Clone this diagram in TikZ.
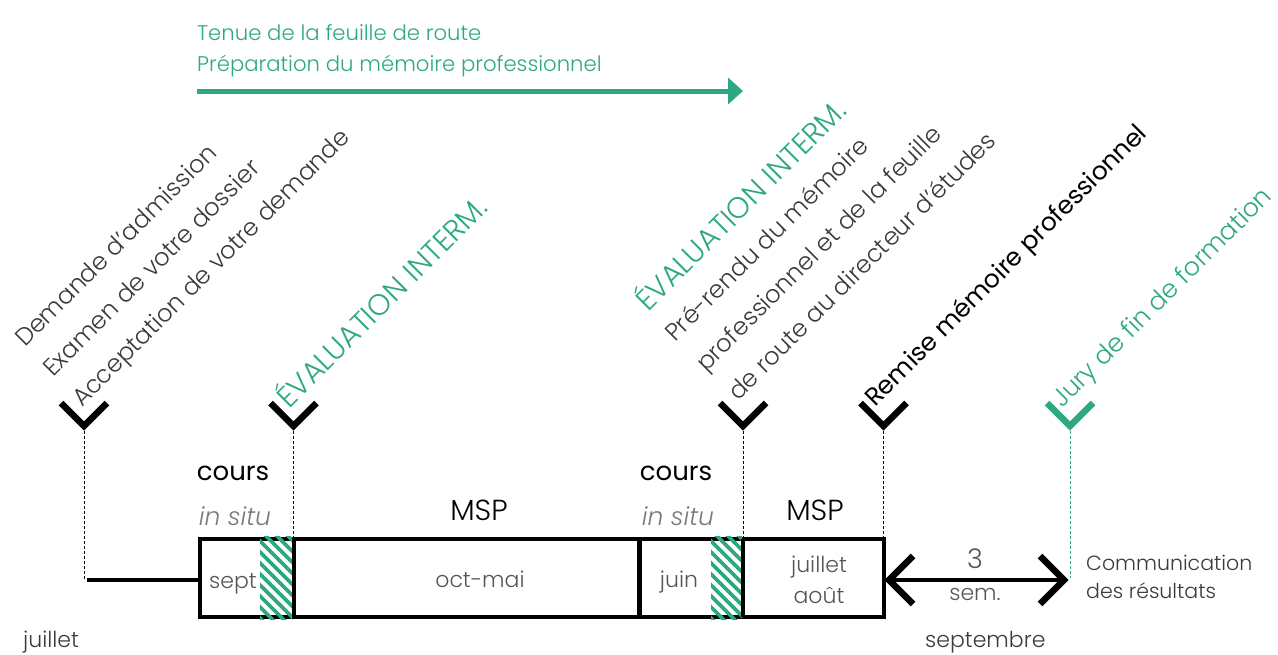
\documentclass[tikz,border=0pt]{standalone}
\usepackage{fontspec}
\IfFontExistsTF{Poppins Light}{\setmainfont{Poppins Light}}{\setmainfont{Poppins}}
\newfontfamily\regfont{Poppins}
\usetikzlibrary{calc,arrows.meta}
\definecolor{grn}{HTML}{2EA882}
\definecolor{txt}{HTML}{3A3A3A}
\definecolor{lgray}{HTML}{7A7A7A}
\definecolor{mgray}{HTML}{555555}
\newcommand\fsz[1]{\fontsize{#1}{#1}\selectfont}
\begin{document}
\begin{tikzpicture}[x=1pt,y=-1pt,
  lab/.style={inner sep=0pt, anchor=base, text=txt, font=\fsz{22}},
  rot/.style={inner sep=0pt, anchor=base west, rotate=45, text=txt, font=\fsz{24.3}},
  chev/.style={line width=6.5pt, line join=miter, miter limit=10, line cap=butt},
  guide/.style={line width=0.8pt, dash pattern=on 3pt off 2pt},
  thick box/.style={line width=4pt},
]
\useasboundingbox (0,0) rectangle (1278,654);

% top arrow and labels
\node[lab, anchor=base west, text=grn, font=\fsz{21.2}] (t1) at (197,40) {Tenue de la feuille de route};
\node[lab, anchor=base west, text=grn, font=\fsz{21.2}] (t2) at (197,71) {Préparation du mémoire professionnel};
\coordinate (a0) at (197,91);
\coordinate (a1) at (743,91);
\draw[grn, line width=5pt, -{Triangle[length=15pt,width=26pt]}] (a0) -- (a1);

% rotated labels
\node[rot] (r1) at (25,348) {Demande d'admission};
\node[rot] (r2) at (53,378) {Examen de votre dossier};
\node[rot] (r3) at (82,408) {Acceptation de votre demande};
\node[rot, text=grn, font=\fsz{29.5}] (r4) at (289,410) {ÉVALUATION INTERM.};
\node[rot, text=grn, font=\fsz{29.5}] (r5) at (648,313) {ÉVALUATION INTERM.};
\node[rot] (r6) at (675,343) {Pré-rendu du mémoire};
\node[rot] (r7) at (706,373) {professionnel et de la feuille};
\node[rot] (r8) at (738,402) {de route au directeur d'études};
\node[rot, text=black, font=\regfont\fsz{25}] (r9) at (875,408) {Remise mémoire professionnel};
\node[rot, text=grn, font=\fsz{25.3}] (r10) at (1062,409) {Jury de fin de formation};

% chevron tips
\coordinate (c1) at (84,426);
\coordinate (c2) at (293.5,426);
\coordinate (c3) at (743,426);
\coordinate (c4) at (883.5,426);
\coordinate (c5) at (1070,426);
\foreach \c in {c1,c2,c3,c4}
  \draw[chev] ($(\c)+(-23,-23)$) -- (\c) -- ($(\c)+(23,-23)$);
\draw[chev, grn] ($(c5)+(-23,-23)$) -- (c5) -- ($(c5)+(23,-23)$);

% box corners and dividers
\coordinate (bl) at (199.5,538.5);
\coordinate (br) at (883.5,616.5);
\coordinate (d1t) at (293.5,538.5); \coordinate (d1b) at (293.5,616.5);
\coordinate (d2t) at (639.5,538.5); \coordinate (d2b) at (639.5,616.5);
\coordinate (d3t) at (743,538.5);   \coordinate (d3b) at (743,616.5);
\coordinate (d4t) at (883.5,538.5);
\coordinate (s0) at (84,580);
\coordinate (s1) at (87,580);
\coordinate (s2) at (199.5,580);
\coordinate (e1) at (1070,578);

% guides
\draw[guide] (c1) -- (s0);
\draw[guide] (c2) -- (d1t);
\draw[guide] (c3) -- (d3t);
\draw[guide] (c4) -- (d4t);
\draw[guide, grn] (c5) -- (e1);

% box
\draw[thick box] (bl) rectangle (br);
\draw[thick box] (s1) -- (s2);
% hatching
\begin{scope}
  \clip (260,536) rectangle (292,619);
  \foreach \i in {-12,...,4} \draw[grn, line width=3.6pt] (260+\i*11,530) -- ++(100,100);
\end{scope}
\begin{scope}
  \clip (711,536) rectangle (742,619);
  \foreach \i in {-12,...,4} \draw[grn, line width=3.6pt] (711+\i*11,530) -- ++(100,100);
\end{scope}
\draw[thick box] (d1t) -- (d1b);
\draw[line width=4.5pt] (d2t) -- (d2b);
\draw[thick box] (d3t) -- (d3b);

% double arrow
\coordinate (h1) at (889,580);
\coordinate (h2) at (1064,580);
\draw[thick box] (h1) -- (h2);
\draw[chev] ($(h1)+(24,-24)$) -- (h1) -- ($(h1)+(24,24)$);
\draw[chev] ($(h2)+(-24,-24)$) -- (h2) -- ($(h2)+(-24,24)$);

% labels above / inside box
\node[lab, text=black, font=\regfont\fsz{26}] (co1) at (233,480) {cours};
\node[lab, text=lgray, font=\itshape\fsz{25}] (is1) at (235,525) {in situ};
\node[lab, text=black, font=\regfont\fsz{26}] (co2) at (676,480) {cours};
\node[lab, text=lgray, font=\itshape\fsz{25}] (is2) at (678,525) {in situ};
\node[lab, text=black, font=\fsz{29}] (m1) at (479,520) {MSP};
\node[lab, text=black, font=\fsz{29}] (m2) at (815,520) {MSP};
\node[lab, text=mgray] (l1) at (233,588) {sept};
\node[lab, text=mgray] (l2) at (480,587) {oct-mai};
\node[lab, text=mgray] (l3) at (679,587) {juin};
\node[lab, text=mgray] (l4) at (819,572) {juillet};
\node[lab, text=mgray] (l5) at (819,603) {août};
\node[lab, text=mgray, font=\fsz{27}] (w1) at (975,568) {3};
\node[lab, text=mgray] (w2) at (975,600) {sem.};
\node[lab, anchor=base west, font=\fsz{20.5}] (cr1) at (1086,570) {Communication};
\node[lab, anchor=base west, font=\fsz{20.5}] (cr2) at (1086,598) {des résultats};
\node[lab, anchor=base west] (bj) at (23,647) {juillet};
\node[lab, anchor=base west] (bs) at (925,647) {septembre};
\end{tikzpicture}
\end{document}
